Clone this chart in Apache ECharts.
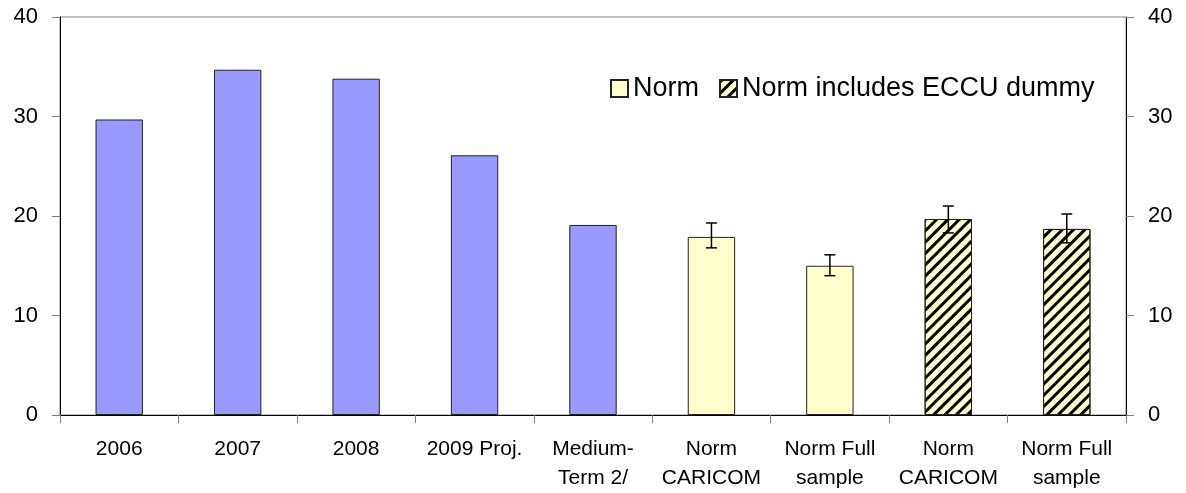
<!DOCTYPE html>
<html>
<head>
<meta charset="utf-8">
<script src="https://cdn.jsdelivr.net/npm/echarts@6/dist/echarts.min.js"></script>
<style>
  html, body { margin: 0; padding: 0; background: #fff; }
  #main { width: 1186px; height: 493px; }
</style>
</head>
<body>
<div id="main"></div>
<script>
var categories = ['2006', '2007', '2008', '2009 Proj.', 'Medium-\nTerm 2/', 'Norm\nCARICOM', 'Norm Full\nsample', 'Norm\nCARICOM', 'Norm Full\nsample'];
var actualValues = [29.7, 34.7, 33.8, 26.1, 19.1, '-', '-', '-', '-'];
var normValues = ['-', '-', '-', '-', '-', 17.9, 15.0, '-', '-'];
var eccuValues = ['-', '-', '-', '-', '-', '-', '-', 19.7, 18.7];
var errLow = [null, null, null, null, null, 16.8, 14.0, 18.3, 17.3];
var errHigh = [null, null, null, null, null, 19.3, 16.1, 21.0, 20.2];
var yTicks = [0, 10, 20, 30, 40];

var errData = [];
for (var i = 0; i < categories.length; i++) {
    if (errLow[i] != null) errData.push([i, errLow[i], errHigh[i]]);
}

var chart = echarts.init(document.getElementById('main'));

var font = 'Liberation Sans, Arial, sans-serif';

function yAxisDef(pos) {
    return {
        type: 'value',
        position: pos,
        min: yTicks[0],
        max: yTicks[yTicks.length - 1],
        interval: 10,
        axisLine: { show: true, lineStyle: { color: '#000', width: 1 } },
        axisTick: { show: true, inside: false, length: 8, lineStyle: { color: '#808080' } },
        axisLabel: { color: '#000', fontSize: 22, fontFamily: font, margin: 22 },
        splitLine: { show: false }
    };
}

var option = {
    animation: false,
    backgroundColor: '#fff',
    grid: {
        left: 60, right: 60, top: 17, bottom: 74,
        show: true, borderColor: '#808080', borderWidth: 1
    },
    legend: {
        data: ['Norm', 'Norm includes ECCU dummy'],
        left: 605, top: 70,
        itemWidth: 17, itemHeight: 17, itemGap: 20,
        textStyle: { fontSize: 27, fontFamily: font, color: '#000' },
        icon: 'rect'
    },
    xAxis: {
        type: 'category',
        data: categories,
        axisLine: { lineStyle: { color: '#000' } },
        axisTick: { show: true, length: 8, lineStyle: { color: '#808080' } },
        axisLabel: { color: '#000', fontSize: 21, fontFamily: font, margin: 20, lineHeight: 29, interval: 0 }
    },
    yAxis: [yAxisDef('left'), yAxisDef('right')],
    series: [
        {
            name: 'Actual',
            type: 'bar',
            data: actualValues,
            barWidth: '40%',
            barGap: '-100%',
            itemStyle: { color: '#9999FF', borderColor: '#222', borderWidth: 1 }
        },
        {
            name: 'Norm',
            type: 'bar',
            data: normValues,
            barWidth: '40%',
            barGap: '-100%',
            itemStyle: { color: '#FFFFCC', borderColor: '#222', borderWidth: 1 }
        },
        {
            name: 'Norm includes ECCU dummy',
            type: 'bar',
            data: eccuValues,
            barWidth: '40%',
            barGap: '-100%',
            itemStyle: {
                color: '#FFFFCC', borderColor: '#222', borderWidth: 1,
                decal: {
                    symbol: 'rect', symbolSize: 1,
                    dashArrayX: [1, 0], dashArrayY: [3, 5],
                    rotation: -Math.PI / 4,
                    color: '#000'
                }
            }
        },
        {
            name: 'err',
            type: 'custom',
            data: errData,
            z: 10,
            renderItem: function (params, api) {
                var x = api.value(0);
                var lo = api.coord([x, api.value(1)]);
                var hi = api.coord([x, api.value(2)]);
                var hw = 5.5;
                var st = { stroke: '#000', lineWidth: 1.5 };
                return {
                    type: 'group',
                    children: [
                        { type: 'line', shape: { x1: hi[0], y1: hi[1], x2: lo[0], y2: lo[1] }, style: st },
                        { type: 'line', shape: { x1: hi[0] - hw, y1: hi[1], x2: hi[0] + hw, y2: hi[1] }, style: st },
                        { type: 'line', shape: { x1: lo[0] - hw, y1: lo[1], x2: lo[0] + hw, y2: lo[1] }, style: st }
                    ]
                };
            }
        }
    ]
};

chart.setOption(option);
</script>
</body>
</html>
